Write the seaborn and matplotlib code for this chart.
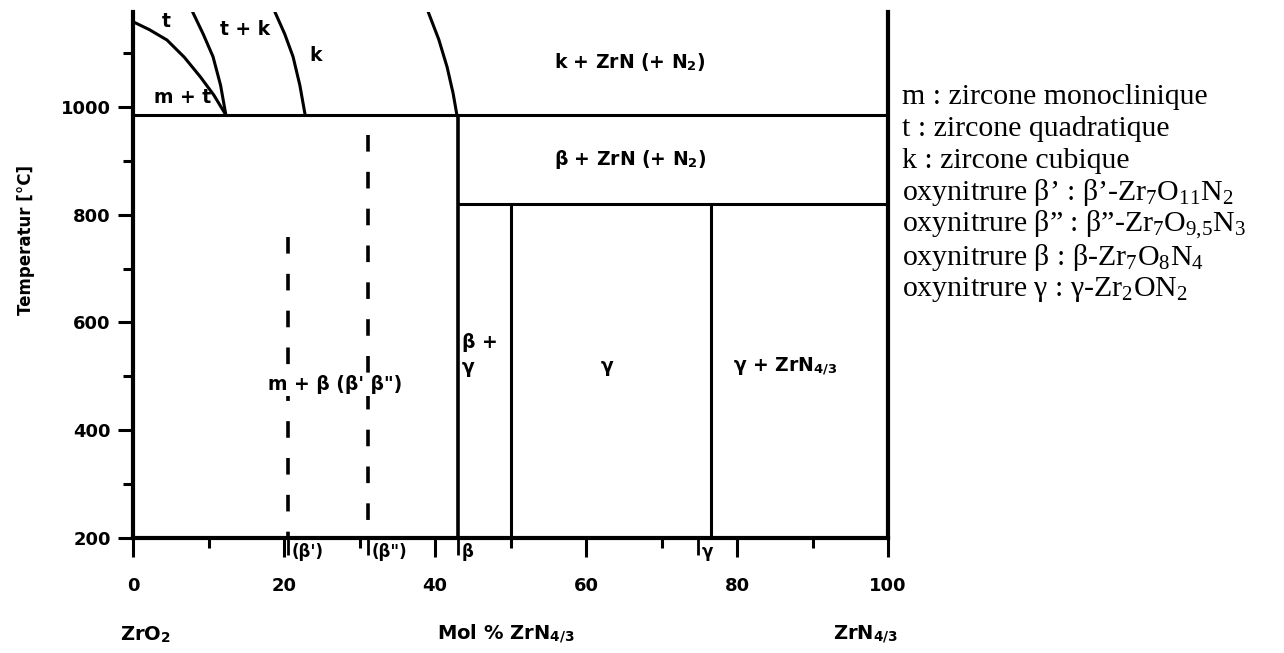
import numpy as np
import pandas as pd
import matplotlib
matplotlib.use('Agg')
import matplotlib.pyplot as plt
import matplotlib.transforms as mtransforms
import seaborn as sns

# phase boundaries (x = mol % ZrN4/3, T in degC)
mt_x = [0, 2.2, 4.5, 6.8, 8.9, 10.7, 12.3]
mt_T = [1158, 1143, 1124, 1092, 1056, 1022, 985]
t_x = [7.9, 9.3, 10.6, 11.6, 12.3]
t_T = [1176, 1135, 1093, 1040, 985]
k_x = [18.8, 20.1, 21.2, 22.1, 22.8]
k_T = [1176, 1135, 1093, 1040, 985]
kz_x = [39.1, 40.5, 41.6, 42.4, 42.9]
kz_T = [1176, 1125, 1074, 1025, 985]

T_eut = 985
T_beta = 820
x_beta = 43
x_gam_left = 50
x_gam_right = 76.5
dash_x = [20.5, 31.1]
dash_top = [759, 948]
dash_bottom = 203

comp_ticks = [20.5, 31.1, 43, 74.8]
comp_labels = ["(β')", '(β")', 'β', 'γ']

region_text = ['t', 't + k', 'k', 'm + t', r'k + ZrN (+ N$_\mathbf{2}$)',
               r'β + ZrN (+ N$_\mathbf{2}$)', 'β +\nγ', 'γ', r'γ + ZrN$_\mathbf{4/3}$',
               'm + β (β\' β")']
region_x = [4.4, 14.8, 24.2, 6.6, 65.8, 65.8, 43.6, 62.8, 86.4, 26.8]
region_T = [1158, 1143, 1096, 1018, 1083, 902, 540, 518, 518, 484]
region_ha = ['center'] * 6 + ['left'] + ['center'] * 3

legend_lines = ['m : zircone monoclinique',
                't : zircone quadratique',
                'k : zircone cubique',
                r'oxynitrure β’ : β’-Zr$_\mathrm{7}$O$_\mathrm{11}$N$_\mathrm{2}$',
                r'oxynitrure β” : β”-Zr$_\mathrm{7}$O$_\mathrm{9{,}5}$N$_\mathrm{3}$',
                r'oxynitrure β : β-Zr$_\mathrm{7}$O$_\mathrm{8}$N$_\mathrm{4}$',
                r'oxynitrure γ : γ-Zr$_\mathrm{2}$ON$_\mathrm{2}$']

sns.set_style('ticks')
plt.rcParams['font.family'] = ['DejaVu Sans']
plt.rcParams['text.color'] = 'black'
plt.rcParams['axes.labelcolor'] = 'black'
plt.rcParams['xtick.color'] = 'black'
plt.rcParams['ytick.color'] = 'black'
plt.rcParams['mathtext.fontset'] = 'custom'
plt.rcParams['mathtext.rm'] = 'Liberation Serif'
plt.rcParams['mathtext.it'] = 'Liberation Serif:italic'
plt.rcParams['mathtext.bf'] = 'DejaVu Sans:bold'

fig = plt.figure(figsize=(12.84, 6.53), dpi=100)
ax = fig.add_axes([133 / 1284, 115 / 653, 755 / 1284, 526 / 653])

lw = 2.2
for cx, cT in [(mt_x, mt_T), (t_x, t_T), (k_x, k_T), (kz_x, kz_T)]:
    sns.lineplot(x=cx, y=cT, sort=False, estimator=None, color='black', lw=lw, ax=ax)

ax.hlines(T_eut, 0, 100, color='black', lw=lw)
ax.vlines(x_beta, 200, T_eut, color='black', lw=lw + 0.4)
ax.hlines(T_beta, x_beta, 100, color='black', lw=lw)
ax.vlines([x_gam_left, x_gam_right], 200, T_beta, color='black', lw=lw)
for dx, dt in zip(dash_x, dash_top):
    ax.plot([dx, dx], [dt, dash_bottom], color='black', lw=lw + 0.4, ls=(0, (4.6, 5.6)))

for s, x, T, ha in zip(region_text, region_x, region_T, region_ha):
    bb = dict(facecolor='white', edgecolor='none', pad=1) if s.startswith('m + β') else None
    ax.text(x, T, s, ha=ha, va='center', fontsize=13.5, fontweight='bold', bbox=bb,
            linespacing=1.4, zorder=5)

ax.set_xlim(0, 100)
ax.set_ylim(200, 1176)
ax.set_xticks(range(0, 101, 20))
ax.set_xticks(range(10, 100, 20), minor=True)
ax.set_yticks(range(200, 1001, 200))
ax.set_yticks(range(300, 1200, 200), minor=True)
ax.tick_params(which='major', direction='out', width=2.2, labelsize=13, color='black')
ax.tick_params(axis='x', which='major', length=14, pad=14)
ax.tick_params(axis='y', which='major', length=11, pad=5)
ax.tick_params(which='minor', direction='out', length=7, width=2.2)
for t in ax.get_xticklabels() + ax.get_yticklabels():
    t.set_fontweight('bold')
for side in ['left', 'bottom', 'right']:
    ax.spines[side].set_linewidth(3)
    ax.spines[side].set_color('black')
ax.spines['top'].set_visible(False)

sec = ax.secondary_xaxis('bottom')
sec.set_xticks(comp_ticks)
sec.tick_params(length=12, width=2, direction='out', labelbottom=False)
sec.spines['bottom'].set_visible(False)

trans = mtransforms.blended_transform_factory(ax.transData, ax.transAxes)
for x, s in zip(comp_ticks, comp_labels):
    ax.text(x + 0.5, -0.027, s, transform=trans, ha='left', va='center', fontsize=12, fontweight='bold')

ax.text(1.7, -0.184, r'ZrO$_\mathbf{2}$', transform=trans, ha='center', va='center', fontsize=14, fontweight='bold')
ax.text(49.4, -0.184, r'Mol % ZrN$_\mathbf{4/3}$', transform=trans, ha='center', va='center', fontsize=14, fontweight='bold')
ax.text(97, -0.184, r'ZrN$_\mathbf{4/3}$', transform=trans, ha='center', va='center', fontsize=14, fontweight='bold')

ax.set_ylabel('Temperatur [°C]', fontsize=12, fontweight='bold')
ax.yaxis.set_label_coords(-0.13, 0.567)

for i, s in enumerate(legend_lines):
    fig.text(902 / 1284, 1 - (97 + 32 * i) / 653, s, ha='left', va='center', fontsize=21.5,
             family=['Liberation Serif', 'DejaVu Serif'])

fig.savefig('out.png', dpi=100)
